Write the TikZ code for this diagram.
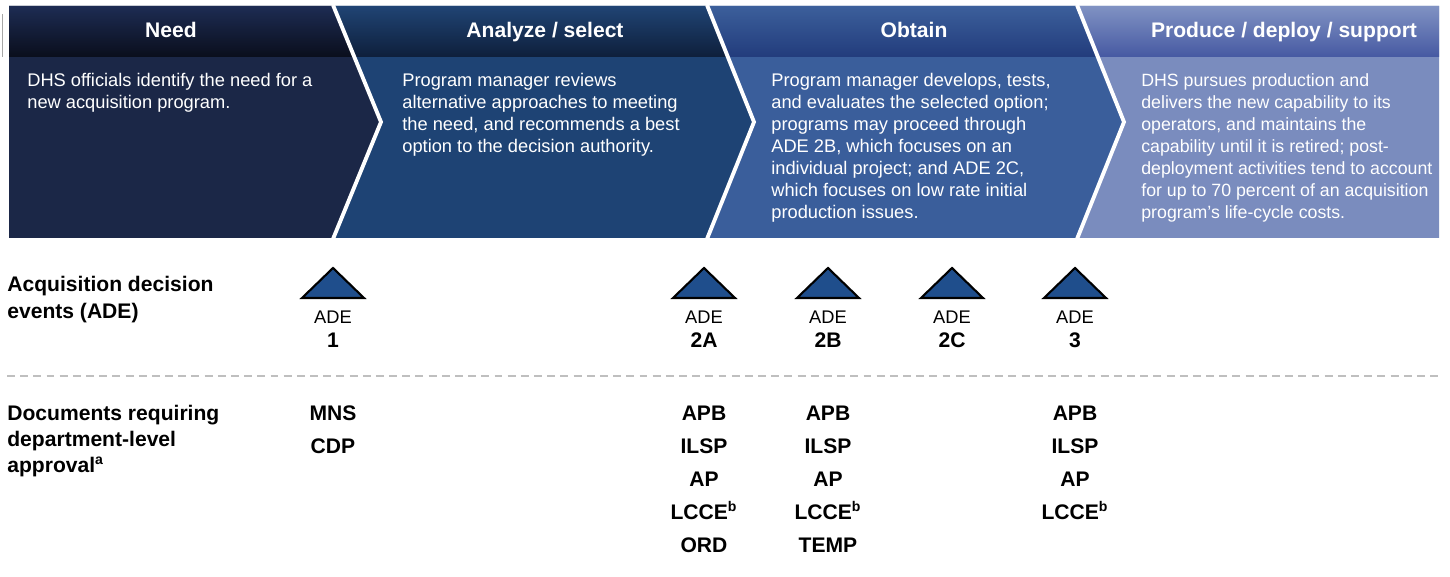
\documentclass[tikz,border=0pt]{standalone}
\usepackage{fontspec}
\setmainfont{Liberation Sans}
\usepackage{tikz}
\usetikzlibrary{calc}

\definecolor{needbody}{HTML}{1B2747}
\definecolor{needtop}{HTML}{1D2C53}
\definecolor{needbot}{HTML}{0A0E1C}
\definecolor{anabody}{HTML}{1E4374}
\definecolor{anatop}{HTML}{204474}
\definecolor{anabot}{HTML}{0E1F3B}
\definecolor{obtbody}{HTML}{3A5E9B}
\definecolor{obttop}{HTML}{3C5F9B}
\definecolor{obtbot}{HTML}{223C7C}
\definecolor{probody}{HTML}{7A8CBE}
\definecolor{protop}{HTML}{8092C3}
\definecolor{probot}{HTML}{4659A2}
\definecolor{adeblue}{HTML}{1F4E8C}

\tikzset{
  phase/.style={text=white, inner sep=0, anchor=base, font=\bfseries\fontsize{12}{14}\selectfont},
  blurb/.style={text=white, inner sep=0, anchor=base west, font=\fontsize{10.4}{12.5}\selectfont},
  rowlabel/.style={inner sep=0, anchor=base west, font=\bfseries\fontsize{12}{14.8}\selectfont},
  adetri/.style={fill=adeblue, draw=black, line width=1.2pt, line join=miter},
  adename/.style={inner sep=0, anchor=base, font=\fontsize{10.4}{12}\selectfont},
  adenum/.style={inner sep=0, anchor=base, font=\bfseries\fontsize{12}{14}\selectfont},
  docname/.style={inner sep=0, anchor=base, font=\bfseries\fontsize{12}{14}\selectfont},
  gapline/.style={draw=white, line width=2.2pt, line join=miter},
  rowsep/.style={draw=black!25, line width=0.8pt, dash pattern=on 4.5pt off 3pt}
}

\begin{document}
\begin{tikzpicture}[x=0.02cm, y=-0.02cm]
		%%%%% START %%%%%
		\useasboundingbox (0,0) rectangle (1450,577);
		
		\draw[black!35, line width=0.6pt] (2.5,14) -- (2.5,57);
		
		% need
		\fill[needbody] (9,6) -- (333,6) -- (381,122) -- (333,238) -- (9,238) -- cycle;
		\begin{scope}
			\clip (9,6) -- (333,6) -- (381,122) -- (333,238) -- (9,238) -- cycle;
			\shade[top color=needtop, bottom color=needbot] (9,6) rectangle (390,57);
		\end{scope}
		
		% analyze / select
		\fill[anabody] (333,6) -- (707,6) -- (754,122) -- (707,238) -- (333,238) -- (381,122) -- cycle;
		\begin{scope}
			\clip (333,6) -- (707,6) -- (754,122) -- (707,238) -- (333,238) -- (381,122) -- cycle;
			\shade[top color=anatop, bottom color=anabot] (333,6) rectangle (760,57);
		\end{scope}
		
		% obtain
		\fill[obtbody] (707,6) -- (1077,6) -- (1124,122) -- (1077,238) -- (707,238) -- (754,122) -- cycle;
		\begin{scope}
			\clip (707,6) -- (1077,6) -- (1124,122) -- (1077,238) -- (707,238) -- (754,122) -- cycle;
			\shade[top color=obttop, bottom color=obtbot] (707,6) rectangle (1130,57);
		\end{scope}
		
		% produce / deploy / support
		\fill[probody] (1077,6) -- (1439,6) -- (1439,238) -- (1077,238) -- (1124,122) -- cycle;
		\begin{scope}
			\clip (1077,6) -- (1439,6) -- (1439,238) -- (1077,238) -- (1124,122) -- cycle;
			\shade[top color=protop, bottom color=probot] (1077,6) rectangle (1439,57);
		\end{scope}
		
		\draw[gapline] (333,5) -- (381,122) -- (333,239);
		\draw[gapline] (707,5) -- (754,122) -- (707,239);
		\draw[gapline] (1077,5) -- (1124,122) -- (1077,239);
		
		\node[phase] (need) at (171,38) {Need};
		\node[phase] (analyze) at (545,38) {Analyze / select};
		\node[phase] (obtain) at (914,38) {Obtain};
		\node[phase] (produce) at (1284,38) {Produce / deploy / support};
		
		\node[blurb] (needtxt) at (27,87) {\parbox[t]{7cm}{DHS officials identify the need for a\\
			new acquisition program.}};
		\node[blurb] (analyzetxt) at (402,87) {\parbox[t]{7cm}{Program manager reviews\\
			alternative approaches to meeting\\
			the need, and recommends a best\\
			option to the decision authority.}};
		\node[blurb] (obtaintxt) at (771,87) {\parbox[t]{7cm}{Program manager develops, tests,\\
			and evaluates the selected option;\\
			programs may proceed through\\
			ADE 2B, which focuses on an\\
			individual project; and ADE 2C,\\
			which focuses on low rate initial\\
			production issues.}};
		\node[blurb, font=\fontsize{10.1}{12.5}\selectfont] (producetxt) at (1141,87) {\parbox[t]{7cm}{DHS pursues production and\\
			delivers the new capability to its\\
			operators, and maintains the\\
			capability until it is retired; post-\\
			deployment activities tend to account\\
			for up to 70 percent of an acquisition\\
			program’s life-cycle costs.}};
		
		% decision events
		\node[rowlabel] (adelabel) at (7,292) {\parbox[t]{6cm}{Acquisition decision\\ events (ADE)}};
		
		\draw[adetri] (333,268) -- ++(31,30) -- ++(-62,0) -- cycle;
		\draw[adetri] (704,268) -- ++(31,30) -- ++(-62,0) -- cycle;
		\draw[adetri] (828,268) -- ++(31,30) -- ++(-62,0) -- cycle;
		\draw[adetri] (952,268) -- ++(31,30) -- ++(-62,0) -- cycle;
		\draw[adetri] (1075,268) -- ++(31,30) -- ++(-62,0) -- cycle;
		
		\node[adename] (ade1) at (333,323.5) {ADE};
		\node[adenum] (num1) at (333,347.5) {1};
		\node[adename] (ade2a) at (704,323.5) {ADE};
		\node[adenum] (num2a) at (704,347.5) {2A};
		\node[adename] (ade2b) at (828,323.5) {ADE};
		\node[adenum] (num2b) at (828,347.5) {2B};
		\node[adename] (ade2c) at (952,323.5) {ADE};
		\node[adenum] (num2c) at (952,347.5) {2C};
		\node[adename] (ade3) at (1075,323.5) {ADE};
		\node[adenum] (num3) at (1075,347.5) {3};
		
		\draw[rowsep] (7,376) -- (1440,376);
		
		% documents
		\node[rowlabel] (doclabel) at (7,420.5) {\parbox[t]{6cm}{Documents requiring\\ department-level\\ approval\textsuperscript{a}}};
		
		\node[docname] (mns) at (333,420.5) {MNS};
		\node[docname] (cdp) at (333,453.5) {CDP};
		
		\node[docname] (apb2a) at (704,420.5) {APB};
		\node[docname] (ilsp2a) at (704,453.5) {ILSP};
		\node[docname] (ap2a) at (704,486.5) {AP};
		\node[docname] (lcce2a) at (704,519.5) {LCCE\textsuperscript{b}};
		\node[docname] (ord2a) at (704,552.5) {ORD};
		
		\node[docname] (apb2b) at (828,420.5) {APB};
		\node[docname] (ilsp2b) at (828,453.5) {ILSP};
		\node[docname] (ap2b) at (828,486.5) {AP};
		\node[docname] (lcce2b) at (828,519.5) {LCCE\textsuperscript{b}};
		\node[docname] (temp2b) at (828,552.5) {TEMP};
		
		\node[docname] (apb3) at (1075,420.5) {APB};
		\node[docname] (ilsp3) at (1075,453.5) {ILSP};
		\node[docname] (ap3) at (1075,486.5) {AP};
		\node[docname] (lcce3) at (1075,519.5) {LCCE\textsuperscript{b}};
		
		%%%%% END %%%%%
	\end{tikzpicture}
\end{document}
